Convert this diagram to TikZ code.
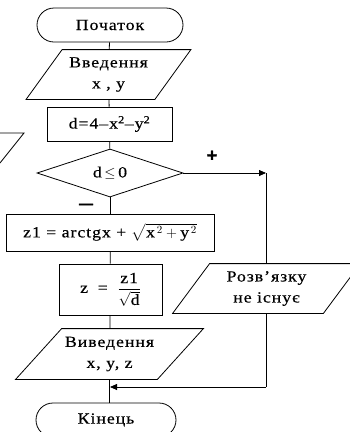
\documentclass[tikz,border=0pt]{standalone}
\usepackage{amsmath}
\usepackage{fontspec}
\setmainfont{Liberation Serif}[FakeStretch=1.15, LetterSpace=6, FakeBold=0.4]
\newfontfamily\signfont{Liberation Sans}[FakeBold=1.5]
\usetikzlibrary{shapes.geometric,arrows.meta}
\tikzset{
  ln/.style={line width=0.8pt},
  base/.style={ln, inner sep=0pt, align=center, font=\fontsize{15.5}{21}\selectfont},
  term/.style={base, draw, rectangle, rounded corners=17pt, minimum height=34pt},
  proc/.style={base, draw, rectangle},
  io/.style={base, rectangle},
  cond/.style={base, draw, diamond, minimum width=146pt, minimum height=48pt},
  sign/.style={inner sep=0pt, font=\signfont\bfseries\fontsize{18}{18}\selectfont},
  arr/.style={ln, -{Triangle[length=7pt,width=6pt]}}
}
\begin{document}
\begin{tikzpicture}[x=1pt,y=-1pt]
\path[use as bounding box, clip] (0,0) rectangle (350,432);

% fragment of another figure at the left
\draw[ln] (-20,133) -- (24,133) -- (0,163);

\node[term, minimum width=146pt] (start) at (110,25) {Початок};

\node[io, minimum width=128pt, minimum height=49pt] (in) at (108.5,74.5) {Введення\\x , y};
\draw[ln] ([xshift=-18pt]in.south west) -- ([xshift=18pt]in.north west)
  -- ([xshift=18pt]in.north east) -- ([xshift=-18pt]in.south east) -- cycle;

\node[proc, minimum width=125pt, minimum height=34pt] (calc) at (109.5,124)
  {d=4–x\textsuperscript{2}–y\textsuperscript{2}};

\node[cond] (test) at (110,173) {d\,$\leq$\,0};

\node[proc, minimum width=208pt, minimum height=37pt] (z1) at (110,232.5)
  {z1 = arctgx + $\sqrt{\textrm{x}^{\,2} + \textrm{y}^{\,2}}$};

\node[proc, minimum width=103pt, minimum height=51pt] (z) at (110.5,289.5)
  {z \;=\; $\dfrac{\textrm{z1}}{\sqrt{\textrm{d}}}$};

\node[io, minimum width=141pt, minimum height=50pt] (out) at (109.5,354) {Виведення\\x, y, z};
\draw[ln] ([xshift=-23pt]out.south west) -- ([xshift=23pt]out.north west)
  -- ([xshift=23pt]out.north east) -- ([xshift=-23pt]out.south east) -- cycle;

\node[io, minimum width=150pt, minimum height=49pt] (nosol) at (266.5,288.5) {Розв’язку\\не існує};
\draw[ln] ([xshift=-18.5pt]nosol.south west) -- ([xshift=18.5pt]nosol.north west)
  -- ([xshift=18.5pt]nosol.north east) -- ([xshift=-18.5pt]nosol.south east) -- cycle;

\node[term, minimum width=140pt] (end) at (106,420) {Кінець};

\node[sign] (plus) at (212,156) {+};
\node[sign, font=\signfont\bfseries\fontsize{14}{14}\selectfont] (minus) at (86,206) {—};

\coordinate (pc) at (266,173);
\coordinate (mc) at (266,387);
\coordinate (mj) at (110,387);

\draw[ln] (start) -- (in);
\draw[ln] (in) -- (calc);
\draw[ln] (calc) -- (test);
\draw[ln] (test) -- (z1);
\draw[ln] (z1) -- (z);
\draw[ln] (z) -- (out);
\draw[ln] (out.south) -- (out.south |- end.north);
\draw[arr] (test.east) -- (pc);
\draw[ln] (pc) -- (pc |- nosol.north);
\draw[ln] (mc |- nosol.south) -- (mc);
\draw[arr] (mc) -- (mj);
\end{tikzpicture}
\end{document}
